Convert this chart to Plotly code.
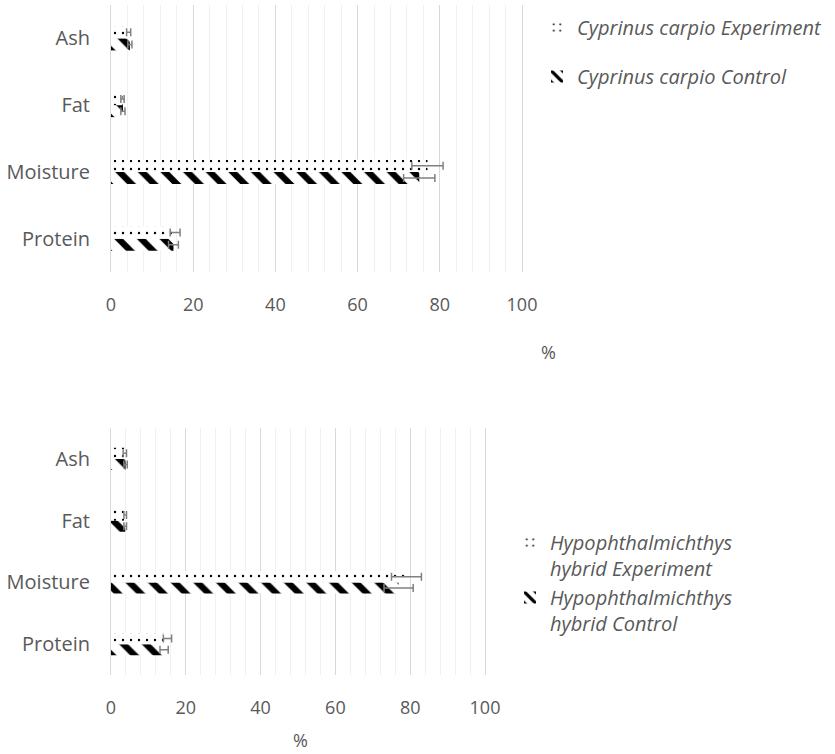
import plotly.graph_objects as go

# Proximate composition (%), categories listed bottom-to-top
categories = ["Protein", "Moisture", "Fat", "Ash"]

carp_exp = [15.6, 77.0, 2.8, 4.3]
carp_exp_err = [1.2, 3.8, 0.4, 0.5]
carp_ctrl = [15.2, 75.0, 2.9, 4.6]
carp_ctrl_err = [1.2, 3.8, 0.5, 0.5]

hyb_exp = [15.1, 79.0, 3.8, 3.7]
hyb_exp_err = [1.1, 4.0, 0.35, 0.45]
hyb_ctrl = [14.2, 76.9, 3.8, 3.9]
hyb_ctrl_err = [1.1, 3.9, 0.35, 0.45]

x_ticks = [0, 20, 40, 60, 80, 100]

TEXT = "#595959"
ERR = "#808080"
FONT = "Open Sans"

dots = dict(shape=".", fgcolor="black", fgopacity=1, bgcolor="white",
            size=8, solidity=0.07, fillmode="overlay")
hatch = dict(shape="\\", fgcolor="black", fgopacity=1, bgcolor="white",
             size=16, solidity=0.4, fillmode="overlay")


def err(vals):
    return dict(type="data", array=vals, color=ERR, thickness=1.5, width=4)


fig = go.Figure()

# Upper chart: Cyprinus carpio
fig.add_trace(go.Bar(
    y=categories, x=carp_ctrl, orientation="h", name="Cyprinus carpio Control",
    marker=dict(color="white", pattern=hatch, line=dict(width=0)),
    error_x=err(carp_ctrl_err), xaxis="x", yaxis="y",
    legend="legend", legendgroup="cc_ctrl", legendrank=2,
))
fig.add_trace(go.Bar(
    y=categories, x=carp_exp, orientation="h", name="Cyprinus carpio Experiment",
    marker=dict(color="white", pattern=dots, line=dict(width=0)),
    error_x=err(carp_exp_err), xaxis="x", yaxis="y",
    legend="legend", legendgroup="cc_exp", legendrank=1,
))

# Lower chart: Hypophthalmichthys hybrid
fig.add_trace(go.Bar(
    y=categories, x=hyb_ctrl, orientation="h", name="Hypophthalmichthys<br>hybrid Control",
    marker=dict(color="white", pattern=hatch, line=dict(width=0)),
    error_x=err(hyb_ctrl_err), xaxis="x2", yaxis="y2",
    legend="legend2", legendrank=2,
))
fig.add_trace(go.Bar(
    y=categories, x=hyb_exp, orientation="h", name="Hypophthalmichthys<br>hybrid Experiment",
    marker=dict(color="white", pattern=dots, line=dict(width=0)),
    error_x=err(hyb_exp_err), xaxis="x2", yaxis="y2",
    legend="legend2", legendrank=1,
))

W, H = 835, 754


def xaxis(left, right, anchor):
    return dict(
        domain=[left / W, right / W], anchor=anchor, range=[0, 100],
        tickvals=x_ticks, showgrid=True, gridcolor="#d9d9d9", gridwidth=1,
        minor=dict(dtick=4, showgrid=True, gridcolor="#f0f0f0", gridwidth=1),
        zeroline=False, showline=False, ticks="", ticklabelstandoff=20,
        tickfont=dict(size=18, color=TEXT), fixedrange=True,
    )


def yaxis(top, bottom, anchor):
    return dict(
        domain=[(H - bottom) / H, (H - top) / H], anchor=anchor,
        categoryorder="array", categoryarray=categories,
        showline=True, mirror=True, linecolor="#d9d9d9", linewidth=1, showgrid=False,
        ticks="", ticklabelstandoff=16, tickfont=dict(size=20, color=TEXT),
    )


legend_font = dict(family=FONT, size=20, color=TEXT, style="italic")

fig.update_layout(
    width=W, height=H,
    margin=dict(l=0, r=0, t=0, b=0, autoexpand=False),
    paper_bgcolor="white", plot_bgcolor="white",
    font=dict(family=FONT, size=18, color=TEXT),
    barmode="group", bargap=0.64, bargroupgap=0.0,
    xaxis=xaxis(111, 522, "y"),
    yaxis=yaxis(5, 272, "x"),
    xaxis2=xaxis(111, 485, "y2"),
    yaxis2=yaxis(428, 675, "x2"),
    legend=dict(
        x=537 / W, y=(H - 8) / H, xanchor="left", yanchor="top",
        font=legend_font, bgcolor="rgba(0,0,0,0)", tracegroupgap=20,
        traceorder="grouped", valign="middle",
    ),
    legend2=dict(
        x=510 / W, y=(H - 523) / H, xanchor="left", yanchor="top",
        font=legend_font, bgcolor="rgba(0,0,0,0)",
        valign="top",
    ),
    annotations=[
        dict(text="%", x=548 / W, y=(H - 352) / H, xref="paper", yref="paper",
             xanchor="center", yanchor="middle",
             showarrow=False, font=dict(size=18, color=TEXT)),
        dict(text="%", x=300 / W, y=(H - 740) / H, xref="paper", yref="paper",
             xanchor="center", yanchor="middle",
             showarrow=False, font=dict(size=18, color=TEXT)),
    ],
)

fig.write_html("out.html")
